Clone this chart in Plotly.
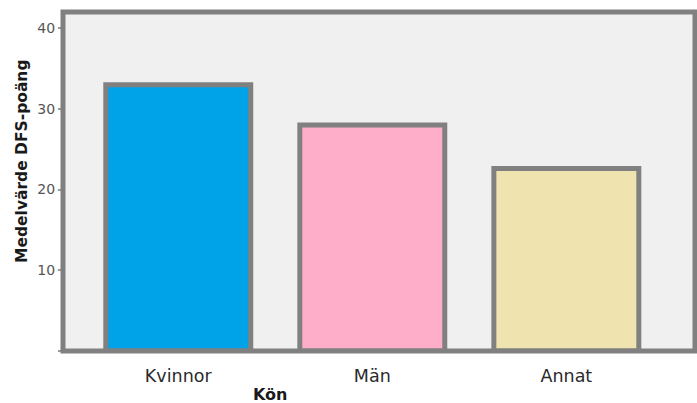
import plotly.graph_objects as go

categories = ["Kvinnor", "Män", "Annat"]
values = [33.0, 28.0, 22.6]
bar_colors = ["#00A2E8", "#FFAEC9", "#EFE4B0"]
y_tickvals = [0, 10, 20, 30, 40]
y_ticktext = ["", "10", "20", "30", "40"]

fig = go.Figure()
fig.add_trace(go.Bar(
    x=categories, y=values,
    width=0.747,
    marker=dict(color=bar_colors, line=dict(color="#808080", width=5)),
    hoverinfo="skip",
))

fig.update_layout(
    width=697, height=403,
    margin=dict(l=63, r=2, t=12, b=52),
    paper_bgcolor="white",
    plot_bgcolor="#F0F0F0",
    showlegend=False,
    font=dict(family="DejaVu Sans", color="#333333"),
    xaxis=dict(
        type="category", range=[-0.594, 2.663],
        showgrid=False, zeroline=False, showline=False,
        ticks="", tickfont=dict(size=17.5, color="#2a2a2a"),
        ticklabelstandoff=12,
        fixedrange=True,
    ),
    yaxis=dict(
        range=[0, 42], tickvals=y_tickvals, ticktext=y_ticktext,
        showgrid=False, zeroline=False, showline=False,
        ticks="outside", ticklen=4, tickwidth=1.5, tickcolor="#999999",
        tickfont=dict(size=14, color="#555555"),
        fixedrange=True,
    ),
    shapes=[dict(
        type="rect", xref="paper", yref="paper", x0=0, x1=1, y0=0, y1=1,
        line=dict(color="#808080", width=5), fillcolor="rgba(0,0,0,0)",
        layer="above",
    )],
    annotations=[
        dict(text="<b>Medelvärde DFS-poäng</b>", xref="paper", yref="paper",
             x=-0.0649, y=0.5605, textangle=-90, showarrow=False,
             font=dict(size=15.5, color="#1a1a1a", family="DejaVu Sans"),
             xanchor="center", yanchor="middle"),
        dict(text="<b>Kön</b>", xref="paper", yref="paper",
             x=0.329, y=-0.127, showarrow=False,
             font=dict(size=16, color="#1a1a1a", family="DejaVu Sans"),
             xanchor="center", yanchor="middle"),
    ],
)

fig.write_html("out.html")
